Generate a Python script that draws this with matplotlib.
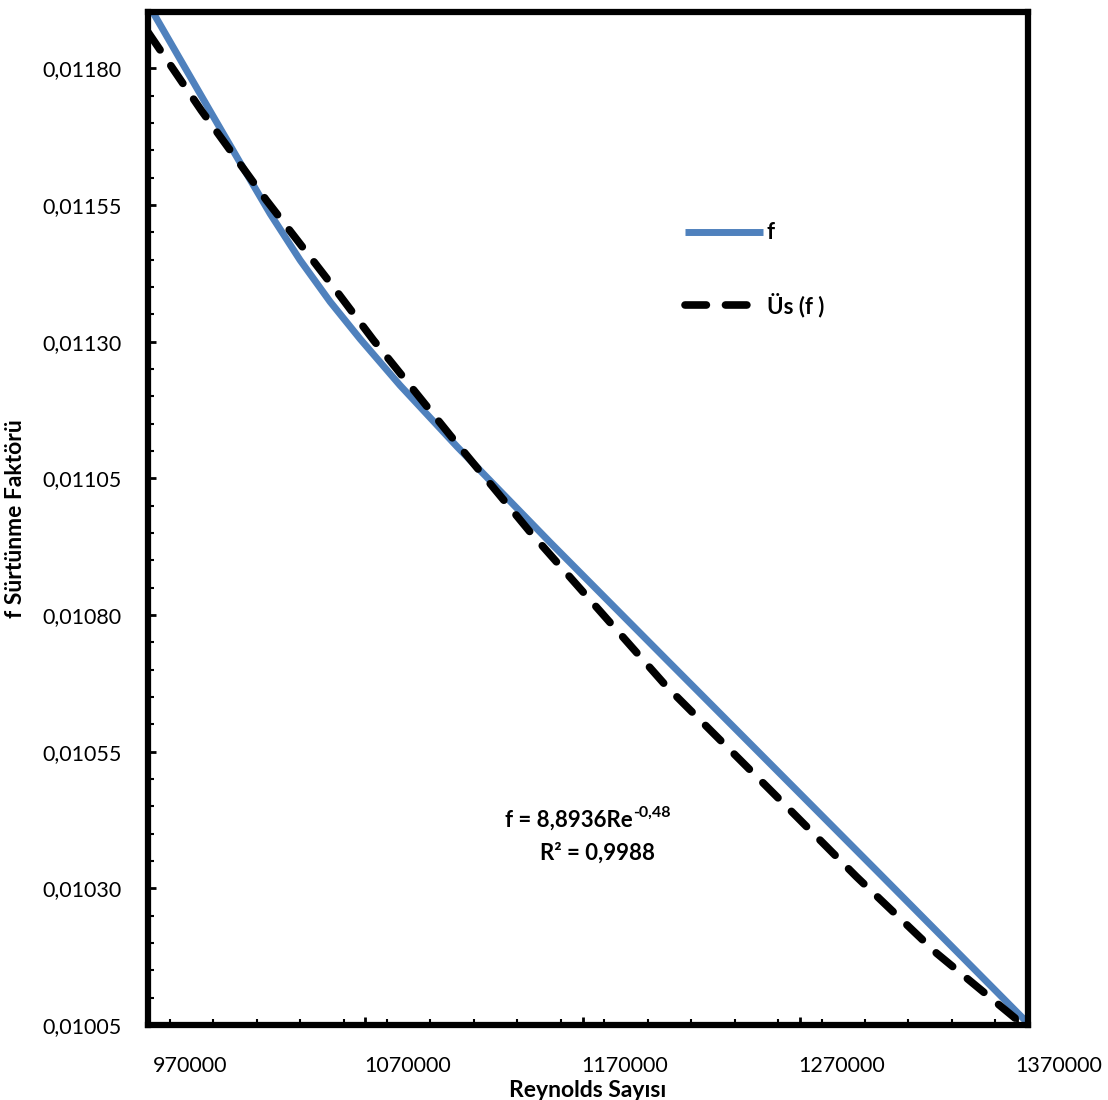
import matplotlib
matplotlib.use("Agg")
import matplotlib.pyplot as plt
from matplotlib.ticker import MultipleLocator, FuncFormatter
from matplotlib.transforms import ScaledTranslation

re_f = [970000, 984700, 998400, 1012300, 1026200, 1040000, 1053800, 1067600,
        1086000, 1112200, 1155000, 1208700, 1271600, 1306900, 1375000]
f_vals = [0.011918, 0.011817, 0.011723, 0.011628, 0.011534, 0.011449, 0.011373,
          0.011305, 0.011220, 0.011108, 0.010933, 0.010718, 0.010467, 0.010326,
          0.010053]

# power trend line "Üs (f )"
re_trend = [970000, 994500, 1024400, 1055900, 1073700, 1109000, 1145800,
            1208700, 1257800, 1296100, 1333000, 1375000]
f_trend = [0.011866, 0.011723, 0.011559, 0.011397, 0.011303, 0.011129, 0.010952,
           0.010669, 0.010474, 0.010321, 0.010181, 0.010043]

x_ticks = [970000, 1070000, 1170000, 1270000, 1370000]
y_ticks = [0.01005, 0.01030, 0.01055, 0.01080, 0.01105, 0.01130, 0.01155, 0.01180]

plt.rcParams['font.family'] = ['Lato', 'DejaVu Sans']

fig = plt.figure(figsize=(11.08, 11.0), dpi=100)
ax = fig.add_axes([0.1336, 0.0682, 0.7942, 0.9209])

ax.plot(re_f, f_vals, color='#4F81BD', lw=5, solid_capstyle='butt',
        solid_joinstyle='round', label='f')
ax.plot(re_trend, f_trend, color='black', lw=5.5, dashes=(2.8, 2.5),
        dash_capstyle='round', label='Üs (f )')

ax.set_xlim(970000, 1375000)
ax.set_ylim(0.01005, 0.011903)
ax.set_xticks(x_ticks)
ax.xaxis.set_minor_locator(MultipleLocator(20000))
ax.xaxis.set_major_formatter(FuncFormatter(lambda v, p: f"{v:.0f}"))
ax.set_yticks(y_ticks)
ax.yaxis.set_minor_locator(MultipleLocator(0.00005))
ax.yaxis.set_major_formatter(FuncFormatter(lambda v, p: f"{v:.5f}".replace('.', ',')))

ax.tick_params(which='major', direction='in', length=6, width=2, labelsize=15.5)
ax.tick_params(which='minor', direction='in', length=4, width=1.5)
ax.tick_params(axis='x', pad=22)
ax.tick_params(axis='y', pad=19)

# Excel put the x labels a little right of their ticks
for lab in ax.get_xticklabels():
    lab.set_transform(lab.get_transform() + ScaledTranslation(0.42, 0, fig.dpi_scale_trans))

for s in ax.spines.values():
    s.set_linewidth(4.5)
    s.set_color('black')

ax.set_xlabel("Reynolds Sayısı", fontsize=16.5, fontweight='bold', labelpad=3)
ax.set_ylabel("f Sürtünme Faktörü", fontsize=16.5, fontweight='bold', labelpad=12)

# trend line equation
eq = ax.text(0.4057, 0.2024, "f = 8,8936Re", transform=ax.transAxes,
             ha='left', va='center', fontsize=16, fontweight='bold')
ax.annotate("-0,48", xy=(1, 0.85), xycoords=eq, xytext=(0.5, 0), textcoords='offset points',
            ha='left', va='center', fontsize=11.5, fontweight='bold')
ax.text(0.5108, 0.1698, "R² = 0,9988", transform=ax.transAxes,
        ha='center', va='center', fontsize=16, fontweight='bold')

leg = ax.legend(loc='upper left', bbox_to_anchor=(0.588, 0.812), frameon=False, fontsize=16,
                handlelength=3.5, handletextpad=0.15, labelspacing=2.2)
for t in leg.get_texts():
    t.set_fontweight('bold')

fig.savefig("out.png", dpi=100)
